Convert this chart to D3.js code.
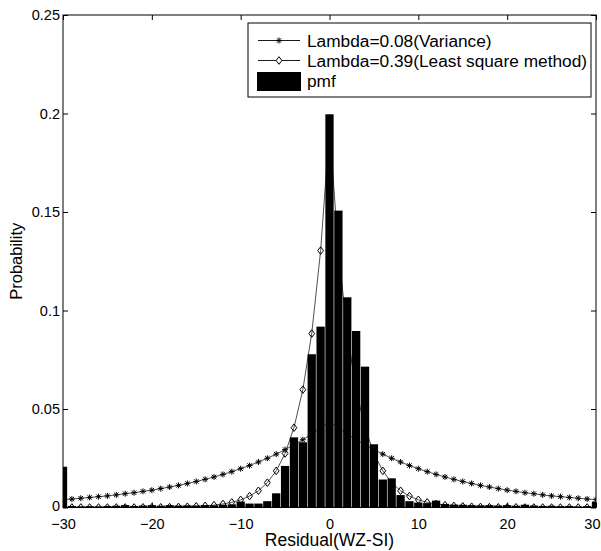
<!DOCTYPE html>
<html>
<head>
<meta charset="utf-8">
<script src="https://cdn.jsdelivr.net/npm/d3@7"></script>
<style>
  body { margin: 0; background: #fff; }
  svg { display: block; }
  text { font-family: Arial, "Liberation Sans", sans-serif; fill: #000; }
</style>
</head>
<body>
<svg id="chart" width="601" height="551"></svg>
<script>
// Residual values (WZ - SI), one per histogram bin
const residuals = [
  -30, -29, -28, -27, -26, -25, -24, -23, -22, -21,
  -20, -19, -18, -17, -16, -15, -14, -13, -12, -11,
  -10, -9, -8, -7, -6, -5, -4, -3, -2, -1,
  0, 1, 2, 3, 4, 5, 6, 7, 8, 9,
  10, 11, 12, 13, 14, 15, 16, 17, 18, 19,
  20, 21, 22, 23, 24, 25, 26, 27, 28, 29, 30
];

// Empirical probability mass function of the residual
const pmf = [
  0.0207, 0.0008, 0.0006, 0.0007, 0.0006, 0.0008, 0.0009, 0.0012, 0.0008, 0.0010,
  0.0012, 0.0009, 0.0012, 0.0010, 0.0011, 0.0010, 0.0012, 0.0011, 0.0014, 0.0016,
  0.0030, 0.0020, 0.0020, 0.0032, 0.0072, 0.0211, 0.0356, 0.0331, 0.0778, 0.0918,
  0.1996, 0.1507, 0.1067, 0.0896, 0.0715, 0.0321, 0.0142, 0.0148, 0.0063, 0.0032,
  0.0025, 0.0022, 0.0035, 0.0018, 0.0015, 0.0014, 0.0012, 0.0011, 0.0012, 0.0010,
  0.0012, 0.0009, 0.0014, 0.0010, 0.0008, 0.0009, 0.0007, 0.0008, 0.0006, 0.0007, 0.0030
];

// Laplacian model, lambda = 0.08 (variance estimate)
const varianceFit = [
  0.0040, 0.0043, 0.0047, 0.0051, 0.0055, 0.0059, 0.0064, 0.0070, 0.0075, 0.0082,
  0.0088, 0.0096, 0.0104, 0.0112, 0.0122, 0.0132, 0.0143, 0.0155, 0.0168, 0.0182,
  0.0197, 0.0213, 0.0231, 0.0250, 0.0271, 0.0294, 0.0318, 0.0344, 0.0373, 0.0404,
  0.0438, 0.0404, 0.0373, 0.0344, 0.0318, 0.0294, 0.0271, 0.0250, 0.0231, 0.0213,
  0.0197, 0.0182, 0.0168, 0.0155, 0.0143, 0.0132, 0.0122, 0.0112, 0.0104, 0.0096,
  0.0088, 0.0082, 0.0075, 0.0070, 0.0064, 0.0059, 0.0055, 0.0051, 0.0047, 0.0043, 0.0040
];

// Laplacian model, lambda = 0.39 (least square fit)
const leastSquareFit = [
  0.0000, 0.0000, 0.0000, 0.0000, 0.0000, 0.0000, 0.0000, 0.0000, 0.0000, 0.0001,
  0.0001, 0.0001, 0.0002, 0.0003, 0.0004, 0.0006, 0.0008, 0.0012, 0.0018, 0.0026,
  0.0039, 0.0058, 0.0085, 0.0126, 0.0186, 0.0274, 0.0405, 0.0598, 0.0883, 0.1304,
  0.1926, 0.1304, 0.0883, 0.0598, 0.0405, 0.0274, 0.0186, 0.0126, 0.0085, 0.0058,
  0.0039, 0.0026, 0.0018, 0.0012, 0.0008, 0.0006, 0.0004, 0.0003, 0.0002, 0.0001,
  0.0001, 0.0001, 0.0000, 0.0000, 0.0000, 0.0000, 0.0000, 0.0000, 0.0000, 0.0000, 0.0000
];

const xTicks = [-30, -20, -10, 0, 10, 20, 30];
const yTicks = [0, 0.05, 0.1, 0.15, 0.2, 0.25];
const yTickLabels = ["0", "0.05", "0.1", "0.15", "0.2", "0.25"];

const legendLabels = [
  "Lambda=0.08(Variance)",
  "Lambda=0.39(Least square method)",
  "pmf"
];

const svg = d3.select("#chart");
const plot = { left: 63, right: 596, top: 15, bottom: 507.5 };

const x = d3.scaleLinear().domain([-30, 30]).range([plot.left, plot.right]);
const y = d3.scaleLinear().domain([0, 0.25]).range([plot.bottom, plot.top]);

svg.append("defs").append("clipPath").attr("id", "plot-clip")
  .append("rect")
  .attr("x", plot.left).attr("y", plot.top)
  .attr("width", plot.right - plot.left).attr("height", plot.bottom - plot.top);

const area = svg.append("g").attr("clip-path", "url(#plot-clip)");

const starPath = "M-3,0H3M0,-3V3M-2.2,-2.2L2.2,2.2M-2.2,2.2L2.2,-2.2";
const diamondPath = "M0,-3.8L2.9,0L0,3.8L-2.9,0Z";

function drawSeries(g, values, markerPath) {
  const pts = residuals.map((r, i) => ({ r, v: values[i] }));
  const line = d3.line().x(d => x(d.r)).y(d => y(d.v));
  g.append("path").datum(pts)
    .attr("d", line)
    .attr("fill", "none")
    .attr("stroke", "#222")
    .attr("stroke-width", 0.8);
  g.selectAll(null).data(pts).enter().append("path")
    .attr("transform", d => `translate(${x(d.r)},${y(d.v)})`)
    .attr("d", markerPath)
    .attr("fill", "none")
    .attr("stroke", "#000")
    .attr("stroke-width", 1);
}

// Model curves sit underneath the histogram
drawSeries(area.append("g"), varianceFit, starPath);
drawSeries(area.append("g"), leastSquareFit, diamondPath);

// Histogram bars, one unit wide with a hairline gap
const step = x(1) - x(0);
area.append("g").selectAll("rect")
  .data(residuals.map((r, i) => ({ r, v: pmf[i] })))
  .enter().append("rect")
  .attr("x", d => x(d.r - 0.5) + 0.3)
  .attr("width", step - 0.6)
  .attr("y", d => y(d.v))
  .attr("height", d => y(0) - y(d.v))
  .attr("fill", "#000");

// Axes with inward ticks on every side
const tickLen = 5;
const gBottom = svg.append("g").attr("transform", `translate(0,${plot.bottom})`)
  .call(d3.axisBottom(x).tickValues(xTicks).tickSize(-tickLen).tickFormat(d3.format("d")));
gBottom.selectAll("text").attr("y", 21).attr("dy", "0").style("font-size", "14.5px");
gBottom.selectAll(".tick").filter(d => d === 30).select("text")
  .attr("text-anchor", "end").attr("x", 600 - plot.right);

const gTop = svg.append("g").attr("transform", `translate(0,${plot.top})`)
  .call(d3.axisTop(x).tickValues(xTicks).tickSize(-tickLen).tickFormat(""));

const gLeft = svg.append("g").attr("transform", `translate(${plot.left},0)`)
  .call(d3.axisLeft(y).tickValues(yTicks).tickSize(-tickLen).tickPadding(3)
    .tickFormat((d, i) => yTickLabels[i]));
gLeft.selectAll("text").attr("dy", "0.33em").style("font-size", "14.5px");
gLeft.selectAll(".tick").filter(d => d === 0).select("text").attr("dy", "0.22em");

const gRight = svg.append("g").attr("transform", `translate(${plot.right},0)`)
  .call(d3.axisRight(y).tickValues(yTicks).tickSize(-tickLen).tickFormat(""));

[gBottom, gTop, gLeft, gRight].forEach(g => {
  g.select(".domain").remove();
  g.selectAll("line").attr("stroke", "#000").attr("stroke-width", 1);
  g.attr("font-family", null).attr("font-size", null);
});

svg.append("rect")
  .attr("x", plot.left).attr("y", plot.top)
  .attr("width", plot.right - plot.left).attr("height", plot.bottom - plot.top)
  .attr("fill", "none").attr("stroke", "#000").attr("stroke-width", 1);

// Axis titles
svg.append("text")
  .attr("x", (plot.left + plot.right) / 2).attr("y", 546)
  .attr("text-anchor", "middle").style("font-size", "17.5px")
  .text("Residual(WZ-SI)");

svg.append("text")
  .attr("transform", `translate(22,${(plot.top + plot.bottom) / 2}) rotate(-90)`)
  .attr("text-anchor", "middle").style("font-size", "16.5px")
  .text("Probability");

// Legend
const lg = svg.append("g");
lg.append("rect")
  .attr("x", 248).attr("y", 23).attr("width", 343).attr("height", 74)
  .attr("fill", "#fff").attr("stroke", "#000").attr("stroke-width", 1);

const rowY = [40.5, 60.5, 81];
[starPath, diamondPath].forEach((m, i) => {
  lg.append("line").attr("x1", 258).attr("x2", 300)
    .attr("y1", rowY[i]).attr("y2", rowY[i])
    .attr("stroke", "#000").attr("stroke-width", 0.9);
  lg.append("path").attr("transform", `translate(279,${rowY[i]})`)
    .attr("d", m).attr("fill", "#fff").attr("stroke", "#000").attr("stroke-width", 1);
});
lg.append("rect").attr("x", 257).attr("y", 72).attr("width", 44).attr("height", 19)
  .attr("fill", "#000");

legendLabels.forEach((t, i) => {
  lg.append("text").attr("x", 307).attr("y", rowY[i]).attr("dy", "0.36em")
    .style("font-size", "17.3px").text(t);
});
</script>
</body>
</html>
